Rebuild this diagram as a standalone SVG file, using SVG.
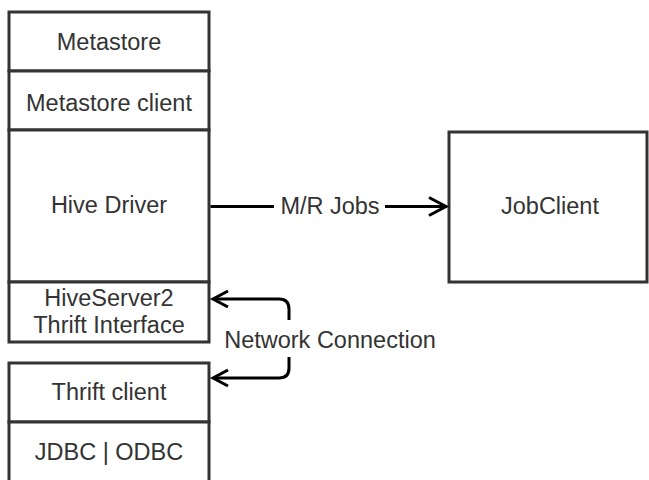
<svg xmlns="http://www.w3.org/2000/svg" width="649" height="480" viewBox="0 0 649 480">
<style>
.box{fill:#fff;stroke:#333;stroke-width:3}
.t{font-family:"Liberation Sans",Arial,sans-serif;font-size:23.5px;fill:#333;text-anchor:middle}
.ln{fill:none;stroke:#000;stroke-width:3}
.ah{fill:none;stroke:#000;stroke-width:3;stroke-linejoin:miter}
</style>
<rect width="649" height="480" fill="#fff"/>
<g id="metastore"><rect class="box" x="9" y="12" width="200" height="59"/><text class="t" x="109" y="50">Metastore</text></g>
<g id="metastore-client"><rect class="box" x="9" y="71" width="200" height="59"/><text class="t" x="109" y="111">Metastore client</text></g>
<g id="hive-driver"><rect class="box" x="9" y="130" width="200" height="152"/><text class="t" x="109" y="213">Hive Driver</text></g>
<g id="hiveserver2"><rect class="box" x="9" y="282" width="200" height="60"/><text class="t" x="109" y="306">HiveServer2</text><text class="t" x="109" y="333">Thrift Interface</text></g>
<g id="thrift-client"><rect class="box" x="9" y="363" width="200" height="59"/><text class="t" x="109" y="400">Thrift client</text></g>
<g id="jdbc-odbc"><rect class="box" x="9" y="422" width="200" height="62"/><text class="t" x="109" y="460">JDBC | ODBC</text></g>
<g id="jobclient"><rect class="box" x="449" y="132" width="198" height="150"/><text class="t" x="550" y="214">JobClient</text></g>
<g id="connectors">
<path class="ln" d="M210.5 206.5 H274 M385 206.5 H446"/>
<path class="ah" d="M429 197.5 L446 206.5 L429 215.5"/>
<text class="t" x="330" y="214">M/R Jobs</text>
<path class="ln" d="M214 299 H279 Q289 299 289 309 V320"/>
<path class="ah" d="M228 291 L213 299 L228 307"/>
<path class="ln" d="M289 357 V368 Q289 378 279 378 H214"/>
<path class="ah" d="M228 370 L213 378 L228 386"/>
<text class="t" x="330" y="348">Network Connection</text>
</g>
</svg>
